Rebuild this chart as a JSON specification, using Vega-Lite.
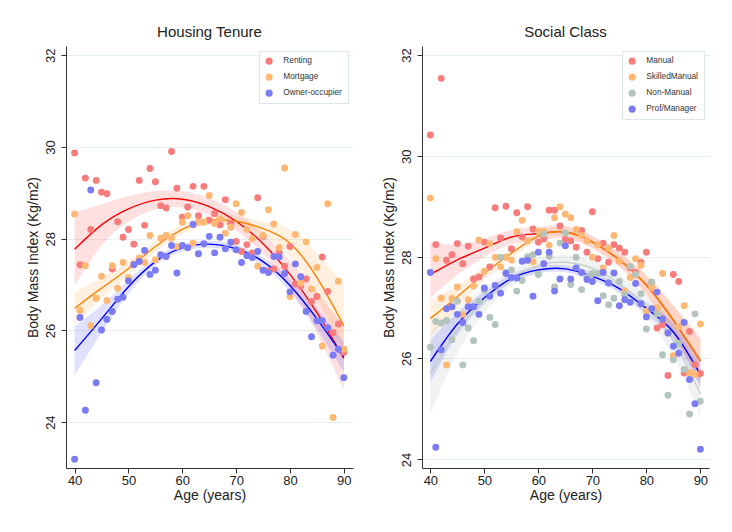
{
  "$schema": "https://vega.github.io/schema/vega-lite/v6.json",
  "background": "white",
  "padding": {"left": 26, "top": 25, "right": 5, "bottom": 5},
  "spacing": 29,
  "datasets": {
    "ptsL": [
      {"age":40,"group":"Renting","bmi":29.87},{"age":41,"group":"Renting","bmi":27.43},{"age":42,"group":"Renting","bmi":29.32},{"age":43,"group":"Renting","bmi":28.2},{"age":44,"group":"Renting","bmi":29.27},{"age":45,"group":"Renting","bmi":29.01},{"age":46,"group":"Renting","bmi":28.98},{"age":47,"group":"Renting","bmi":27.34},{"age":48,"group":"Renting","bmi":28.37},{"age":49,"group":"Renting","bmi":28.03},{"age":50,"group":"Renting","bmi":28.2},{"age":51,"group":"Renting","bmi":27.88},{"age":52,"group":"Renting","bmi":29.27},{"age":53,"group":"Renting","bmi":28.29},{"age":54,"group":"Renting","bmi":29.53},{"age":55,"group":"Renting","bmi":29.24},{"age":56,"group":"Renting","bmi":28.72},{"age":57,"group":"Renting","bmi":28.67},{"age":58,"group":"Renting","bmi":29.9},{"age":59,"group":"Renting","bmi":29.1},{"age":60,"group":"Renting","bmi":28.47},{"age":61,"group":"Renting","bmi":28.69},{"age":62,"group":"Renting","bmi":29.14},{"age":63,"group":"Renting","bmi":28.5},{"age":64,"group":"Renting","bmi":29.14},{"age":65,"group":"Renting","bmi":28.4},{"age":66,"group":"Renting","bmi":28.55},{"age":67,"group":"Renting","bmi":28.3},{"age":68,"group":"Renting","bmi":28.85},{"age":69,"group":"Renting","bmi":28.33},{"age":70,"group":"Renting","bmi":27.94},{"age":71,"group":"Renting","bmi":27.72},{"age":72,"group":"Renting","bmi":27.87},{"age":73,"group":"Renting","bmi":27.69},{"age":74,"group":"Renting","bmi":28.89},{"age":75,"group":"Renting","bmi":28.05},{"age":76,"group":"Renting","bmi":27.3},{"age":77,"group":"Renting","bmi":27.34},{"age":78,"group":"Renting","bmi":27.7},{"age":79,"group":"Renting","bmi":27.4},{"age":80,"group":"Renting","bmi":27.83},{"age":81,"group":"Renting","bmi":27.01},{"age":82,"group":"Renting","bmi":26.96},{"age":83,"group":"Renting","bmi":27.12},{"age":84,"group":"Renting","bmi":26.63},{"age":85,"group":"Renting","bmi":26.74},{"age":86,"group":"Renting","bmi":27.6},{"age":87,"group":"Renting","bmi":26.85},{"age":88,"group":"Renting","bmi":25.95},{"age":89,"group":"Renting","bmi":26.14},{"age":90,"group":"Renting","bmi":25.52},
      {"age":40,"group":"Mortgage","bmi":28.54},{"age":41,"group":"Mortgage","bmi":26.44},{"age":42,"group":"Mortgage","bmi":27.41},{"age":43,"group":"Mortgage","bmi":26.1},{"age":44,"group":"Mortgage","bmi":26.7},{"age":45,"group":"Mortgage","bmi":27.18},{"age":46,"group":"Mortgage","bmi":26.65},{"age":47,"group":"Mortgage","bmi":27.41},{"age":48,"group":"Mortgage","bmi":26.92},{"age":49,"group":"Mortgage","bmi":27.48},{"age":50,"group":"Mortgage","bmi":27.15},{"age":51,"group":"Mortgage","bmi":27.45},{"age":52,"group":"Mortgage","bmi":27.58},{"age":53,"group":"Mortgage","bmi":27.48},{"age":54,"group":"Mortgage","bmi":28.07},{"age":55,"group":"Mortgage","bmi":27.54},{"age":56,"group":"Mortgage","bmi":28.01},{"age":57,"group":"Mortgage","bmi":28.07},{"age":58,"group":"Mortgage","bmi":28.01},{"age":59,"group":"Mortgage","bmi":27.83},{"age":60,"group":"Mortgage","bmi":28.36},{"age":61,"group":"Mortgage","bmi":28.5},{"age":62,"group":"Mortgage","bmi":27.9},{"age":63,"group":"Mortgage","bmi":28.36},{"age":64,"group":"Mortgage","bmi":28.36},{"age":65,"group":"Mortgage","bmi":28.94},{"age":66,"group":"Mortgage","bmi":28.33},{"age":67,"group":"Mortgage","bmi":28.43},{"age":68,"group":"Mortgage","bmi":28.12},{"age":69,"group":"Mortgage","bmi":28.25},{"age":70,"group":"Mortgage","bmi":28.76},{"age":71,"group":"Mortgage","bmi":28.57},{"age":72,"group":"Mortgage","bmi":28.2},{"age":73,"group":"Mortgage","bmi":28.0},{"age":74,"group":"Mortgage","bmi":27.4},{"age":75,"group":"Mortgage","bmi":28.07},{"age":76,"group":"Mortgage","bmi":28.63},{"age":77,"group":"Mortgage","bmi":28.32},{"age":78,"group":"Mortgage","bmi":27.8},{"age":79,"group":"Mortgage","bmi":29.54},{"age":80,"group":"Mortgage","bmi":26.74},{"age":81,"group":"Mortgage","bmi":28.09},{"age":82,"group":"Mortgage","bmi":27.03},{"age":83,"group":"Mortgage","bmi":27.93},{"age":84,"group":"Mortgage","bmi":26.9},{"age":85,"group":"Mortgage","bmi":27.37},{"age":86,"group":"Mortgage","bmi":25.66},{"age":87,"group":"Mortgage","bmi":28.76},{"age":88,"group":"Mortgage","bmi":24.1},{"age":89,"group":"Mortgage","bmi":27.07},{"age":90,"group":"Mortgage","bmi":25.59},
      {"age":40,"group":"Owner-occupier","bmi":23.19},{"age":41,"group":"Owner-occupier","bmi":26.28},{"age":42,"group":"Owner-occupier","bmi":24.26},{"age":43,"group":"Owner-occupier","bmi":29.06},{"age":44,"group":"Owner-occupier","bmi":24.86},{"age":45,"group":"Owner-occupier","bmi":26.01},{"age":46,"group":"Owner-occupier","bmi":26.24},{"age":47,"group":"Owner-occupier","bmi":26.41},{"age":48,"group":"Owner-occupier","bmi":26.68},{"age":49,"group":"Owner-occupier","bmi":26.72},{"age":50,"group":"Owner-occupier","bmi":27.08},{"age":51,"group":"Owner-occupier","bmi":27.43},{"age":52,"group":"Owner-occupier","bmi":27.5},{"age":53,"group":"Owner-occupier","bmi":27.74},{"age":54,"group":"Owner-occupier","bmi":27.22},{"age":55,"group":"Owner-occupier","bmi":27.31},{"age":56,"group":"Owner-occupier","bmi":27.65},{"age":57,"group":"Owner-occupier","bmi":27.61},{"age":58,"group":"Owner-occupier","bmi":27.85},{"age":59,"group":"Owner-occupier","bmi":27.25},{"age":60,"group":"Owner-occupier","bmi":27.85},{"age":61,"group":"Owner-occupier","bmi":27.8},{"age":62,"group":"Owner-occupier","bmi":28.31},{"age":63,"group":"Owner-occupier","bmi":27.67},{"age":64,"group":"Owner-occupier","bmi":27.89},{"age":65,"group":"Owner-occupier","bmi":28.05},{"age":66,"group":"Owner-occupier","bmi":27.69},{"age":67,"group":"Owner-occupier","bmi":28.03},{"age":68,"group":"Owner-occupier","bmi":27.78},{"age":69,"group":"Owner-occupier","bmi":27.92},{"age":70,"group":"Owner-occupier","bmi":27.76},{"age":71,"group":"Owner-occupier","bmi":27.48},{"age":72,"group":"Owner-occupier","bmi":27.63},{"age":73,"group":"Owner-occupier","bmi":27.59},{"age":74,"group":"Owner-occupier","bmi":27.72},{"age":75,"group":"Owner-occupier","bmi":27.31},{"age":76,"group":"Owner-occupier","bmi":27.26},{"age":77,"group":"Owner-occupier","bmi":27.61},{"age":78,"group":"Owner-occupier","bmi":27.6},{"age":79,"group":"Owner-occupier","bmi":27.24},{"age":80,"group":"Owner-occupier","bmi":26.84},{"age":81,"group":"Owner-occupier","bmi":27.45},{"age":82,"group":"Owner-occupier","bmi":27.17},{"age":83,"group":"Owner-occupier","bmi":26.41},{"age":84,"group":"Owner-occupier","bmi":25.86},{"age":85,"group":"Owner-occupier","bmi":26.21},{"age":86,"group":"Owner-occupier","bmi":26.21},{"age":87,"group":"Owner-occupier","bmi":26.06},{"age":88,"group":"Owner-occupier","bmi":25.46},{"age":89,"group":"Owner-occupier","bmi":25.59},{"age":90,"group":"Owner-occupier","bmi":24.97}
    ],
    "fitL": [
      {"age":40,"group":"Renting","fit":27.77,"lo":26.97,"hi":28.57},{"age":45,"group":"Renting","fit":28.3,"lo":27.85,"hi":28.75},{"age":50,"group":"Renting","fit":28.65,"lo":28.37,"hi":28.93},{"age":55,"group":"Renting","fit":28.84,"lo":28.64,"hi":29.04},{"age":60,"group":"Renting","fit":28.86,"lo":28.68,"hi":29.04},{"age":65,"group":"Renting","fit":28.7,"lo":28.52,"hi":28.88},{"age":70,"group":"Renting","fit":28.38,"lo":28.18,"hi":28.58},{"age":75,"group":"Renting","fit":27.89,"lo":27.67,"hi":28.11},{"age":80,"group":"Renting","fit":27.22,"lo":26.92,"hi":27.52},{"age":85,"group":"Renting","fit":26.39,"lo":25.94,"hi":26.84},{"age":90,"group":"Renting","fit":25.39,"lo":24.69,"hi":26.09},
      {"age":40,"group":"Mortgage","fit":26.48,"lo":26.12,"hi":26.84},{"age":45,"group":"Mortgage","fit":26.92,"lo":26.7,"hi":27.14},{"age":50,"group":"Mortgage","fit":27.35,"lo":27.2,"hi":27.5},{"age":55,"group":"Mortgage","fit":27.83,"lo":27.71,"hi":27.95},{"age":60,"group":"Mortgage","fit":28.2,"lo":28.09,"hi":28.31},{"age":65,"group":"Mortgage","fit":28.4,"lo":28.29,"hi":28.51},{"age":70,"group":"Mortgage","fit":28.38,"lo":28.26,"hi":28.5},{"age":75,"group":"Mortgage","fit":28.22,"lo":28.07,"hi":28.37},{"age":80,"group":"Mortgage","fit":27.9,"lo":27.6,"hi":28.2},{"age":85,"group":"Mortgage","fit":27.15,"lo":26.7,"hi":27.7},{"age":90,"group":"Mortgage","fit":26.1,"lo":25.5,"hi":27.0},
      {"age":40,"group":"Owner-occupier","fit":25.56,"lo":25.03,"hi":26.09},{"age":45,"group":"Owner-occupier","fit":26.25,"lo":25.95,"hi":26.55},{"age":50,"group":"Owner-occupier","fit":26.95,"lo":26.8,"hi":27.1},{"age":55,"group":"Owner-occupier","fit":27.5,"lo":27.41,"hi":27.59},{"age":60,"group":"Owner-occupier","fit":27.8,"lo":27.72,"hi":27.88},{"age":65,"group":"Owner-occupier","fit":27.88,"lo":27.8,"hi":27.96},{"age":70,"group":"Owner-occupier","fit":27.78,"lo":27.7,"hi":27.86},{"age":75,"group":"Owner-occupier","fit":27.5,"lo":27.4,"hi":27.6},{"age":80,"group":"Owner-occupier","fit":26.98,"lo":26.84,"hi":27.12},{"age":85,"group":"Owner-occupier","fit":26.25,"lo":26.03,"hi":26.47},{"age":90,"group":"Owner-occupier","fit":25.42,"lo":25.1,"hi":25.74}
    ],
    "ptsR": [
      {"age":40,"group":"Manual","bmi":30.42},{"age":41,"group":"Manual","bmi":28.25},{"age":42,"group":"Manual","bmi":31.54},{"age":43,"group":"Manual","bmi":27.94},{"age":44,"group":"Manual","bmi":28.05},{"age":45,"group":"Manual","bmi":28.27},{"age":46,"group":"Manual","bmi":27.87},{"age":47,"group":"Manual","bmi":28.22},{"age":48,"group":"Manual","bmi":27.57},{"age":49,"group":"Manual","bmi":27.61},{"age":50,"group":"Manual","bmi":28.3},{"age":51,"group":"Manual","bmi":27.81},{"age":52,"group":"Manual","bmi":28.98},{"age":53,"group":"Manual","bmi":28.38},{"age":54,"group":"Manual","bmi":29.01},{"age":55,"group":"Manual","bmi":28.17},{"age":56,"group":"Manual","bmi":28.88},{"age":57,"group":"Manual","bmi":28.4},{"age":58,"group":"Manual","bmi":29.0},{"age":59,"group":"Manual","bmi":28.56},{"age":60,"group":"Manual","bmi":28.3},{"age":61,"group":"Manual","bmi":28.36},{"age":62,"group":"Manual","bmi":28.93},{"age":63,"group":"Manual","bmi":28.93},{"age":64,"group":"Manual","bmi":28.62},{"age":65,"group":"Manual","bmi":28.35},{"age":66,"group":"Manual","bmi":28.32},{"age":67,"group":"Manual","bmi":28.2},{"age":68,"group":"Manual","bmi":28.53},{"age":69,"group":"Manual","bmi":28.1},{"age":70,"group":"Manual","bmi":28.9},{"age":71,"group":"Manual","bmi":27.97},{"age":72,"group":"Manual","bmi":28.28},{"age":73,"group":"Manual","bmi":27.9},{"age":74,"group":"Manual","bmi":28.25},{"age":75,"group":"Manual","bmi":28.18},{"age":76,"group":"Manual","bmi":28.1},{"age":77,"group":"Manual","bmi":27.79},{"age":78,"group":"Manual","bmi":27.7},{"age":79,"group":"Manual","bmi":27.9},{"age":80,"group":"Manual","bmi":28.1},{"age":81,"group":"Manual","bmi":27.5},{"age":82,"group":"Manual","bmi":26.6},{"age":83,"group":"Manual","bmi":26.67},{"age":84,"group":"Manual","bmi":25.66},{"age":85,"group":"Manual","bmi":27.66},{"age":86,"group":"Manual","bmi":27.52},{"age":87,"group":"Manual","bmi":25.71},{"age":88,"group":"Manual","bmi":26.53},{"age":89,"group":"Manual","bmi":25.88},{"age":90,"group":"Manual","bmi":25.7},
      {"age":40,"group":"SkilledManual","bmi":29.17},{"age":41,"group":"SkilledManual","bmi":27.97},{"age":42,"group":"SkilledManual","bmi":27.19},{"age":43,"group":"SkilledManual","bmi":25.87},{"age":44,"group":"SkilledManual","bmi":27.19},{"age":45,"group":"SkilledManual","bmi":27.41},{"age":46,"group":"SkilledManual","bmi":26.87},{"age":47,"group":"SkilledManual","bmi":27.16},{"age":48,"group":"SkilledManual","bmi":27.43},{"age":49,"group":"SkilledManual","bmi":28.34},{"age":50,"group":"SkilledManual","bmi":27.72},{"age":51,"group":"SkilledManual","bmi":28.27},{"age":52,"group":"SkilledManual","bmi":28.0},{"age":53,"group":"SkilledManual","bmi":27.81},{"age":54,"group":"SkilledManual","bmi":28.0},{"age":55,"group":"SkilledManual","bmi":27.94},{"age":56,"group":"SkilledManual","bmi":28.51},{"age":57,"group":"SkilledManual","bmi":28.73},{"age":58,"group":"SkilledManual","bmi":28.32},{"age":59,"group":"SkilledManual","bmi":27.91},{"age":60,"group":"SkilledManual","bmi":28.51},{"age":61,"group":"SkilledManual","bmi":28.51},{"age":62,"group":"SkilledManual","bmi":28.24},{"age":63,"group":"SkilledManual","bmi":28.78},{"age":64,"group":"SkilledManual","bmi":29.0},{"age":65,"group":"SkilledManual","bmi":28.85},{"age":66,"group":"SkilledManual","bmi":28.78},{"age":67,"group":"SkilledManual","bmi":28.55},{"age":68,"group":"SkilledManual","bmi":28.43},{"age":69,"group":"SkilledManual","bmi":28.32},{"age":70,"group":"SkilledManual","bmi":28.0},{"age":71,"group":"SkilledManual","bmi":28.25},{"age":72,"group":"SkilledManual","bmi":27.79},{"age":73,"group":"SkilledManual","bmi":28.18},{"age":74,"group":"SkilledManual","bmi":28.43},{"age":75,"group":"SkilledManual","bmi":27.92},{"age":76,"group":"SkilledManual","bmi":27.33},{"age":77,"group":"SkilledManual","bmi":27.6},{"age":78,"group":"SkilledManual","bmi":27.97},{"age":79,"group":"SkilledManual","bmi":27.84},{"age":80,"group":"SkilledManual","bmi":26.93},{"age":81,"group":"SkilledManual","bmi":27.4},{"age":82,"group":"SkilledManual","bmi":27.0},{"age":83,"group":"SkilledManual","bmi":27.68},{"age":84,"group":"SkilledManual","bmi":26.5},{"age":85,"group":"SkilledManual","bmi":26.05},{"age":86,"group":"SkilledManual","bmi":26.63},{"age":87,"group":"SkilledManual","bmi":27.04},{"age":88,"group":"SkilledManual","bmi":25.72},{"age":89,"group":"SkilledManual","bmi":25.68},{"age":90,"group":"SkilledManual","bmi":26.68},
      {"age":40,"group":"Non-Manual","bmi":26.22},{"age":41,"group":"Non-Manual","bmi":26.73},{"age":42,"group":"Non-Manual","bmi":26.7},{"age":43,"group":"Non-Manual","bmi":26.75},{"age":44,"group":"Non-Manual","bmi":26.37},{"age":45,"group":"Non-Manual","bmi":27.13},{"age":46,"group":"Non-Manual","bmi":25.87},{"age":47,"group":"Non-Manual","bmi":26.6},{"age":48,"group":"Non-Manual","bmi":26.35},{"age":49,"group":"Non-Manual","bmi":27.13},{"age":50,"group":"Non-Manual","bmi":27.35},{"age":51,"group":"Non-Manual","bmi":26.81},{"age":52,"group":"Non-Manual","bmi":26.67},{"age":53,"group":"Non-Manual","bmi":28.0},{"age":54,"group":"Non-Manual","bmi":27.7},{"age":55,"group":"Non-Manual","bmi":27.75},{"age":56,"group":"Non-Manual","bmi":27.33},{"age":57,"group":"Non-Manual","bmi":27.54},{"age":58,"group":"Non-Manual","bmi":28.01},{"age":59,"group":"Non-Manual","bmi":28.05},{"age":60,"group":"Non-Manual","bmi":27.66},{"age":61,"group":"Non-Manual","bmi":28.46},{"age":62,"group":"Non-Manual","bmi":28.02},{"age":63,"group":"Non-Manual","bmi":27.41},{"age":64,"group":"Non-Manual","bmi":28.28},{"age":65,"group":"Non-Manual","bmi":28.48},{"age":66,"group":"Non-Manual","bmi":27.46},{"age":67,"group":"Non-Manual","bmi":28.0},{"age":68,"group":"Non-Manual","bmi":27.36},{"age":69,"group":"Non-Manual","bmi":27.6},{"age":70,"group":"Non-Manual","bmi":27.68},{"age":71,"group":"Non-Manual","bmi":27.68},{"age":72,"group":"Non-Manual","bmi":27.24},{"age":73,"group":"Non-Manual","bmi":27.06},{"age":74,"group":"Non-Manual","bmi":27.19},{"age":75,"group":"Non-Manual","bmi":27.52},{"age":76,"group":"Non-Manual","bmi":27.26},{"age":77,"group":"Non-Manual","bmi":27.82},{"age":78,"group":"Non-Manual","bmi":27.66},{"age":79,"group":"Non-Manual","bmi":27.28},{"age":80,"group":"Non-Manual","bmi":26.58},{"age":81,"group":"Non-Manual","bmi":27.51},{"age":82,"group":"Non-Manual","bmi":26.88},{"age":83,"group":"Non-Manual","bmi":26.07},{"age":84,"group":"Non-Manual","bmi":25.27},{"age":85,"group":"Non-Manual","bmi":25.97},{"age":86,"group":"Non-Manual","bmi":26.3},{"age":87,"group":"Non-Manual","bmi":25.78},{"age":88,"group":"Non-Manual","bmi":24.9},{"age":89,"group":"Non-Manual","bmi":26.88},{"age":90,"group":"Non-Manual","bmi":25.15},
      {"age":40,"group":"Prof/Manager","bmi":27.7},{"age":41,"group":"Prof/Manager","bmi":24.24},{"age":42,"group":"Prof/Manager","bmi":26.17},{"age":43,"group":"Prof/Manager","bmi":26.98},{"age":44,"group":"Prof/Manager","bmi":27.02},{"age":45,"group":"Prof/Manager","bmi":26.87},{"age":46,"group":"Prof/Manager","bmi":26.71},{"age":47,"group":"Prof/Manager","bmi":27.02},{"age":48,"group":"Prof/Manager","bmi":27.02},{"age":49,"group":"Prof/Manager","bmi":26.87},{"age":50,"group":"Prof/Manager","bmi":27.39},{"age":51,"group":"Prof/Manager","bmi":27.23},{"age":52,"group":"Prof/Manager","bmi":27.44},{"age":53,"group":"Prof/Manager","bmi":27.29},{"age":54,"group":"Prof/Manager","bmi":27.68},{"age":55,"group":"Prof/Manager","bmi":27.6},{"age":56,"group":"Prof/Manager","bmi":27.59},{"age":57,"group":"Prof/Manager","bmi":27.92},{"age":58,"group":"Prof/Manager","bmi":27.94},{"age":59,"group":"Prof/Manager","bmi":27.23},{"age":60,"group":"Prof/Manager","bmi":28.1},{"age":61,"group":"Prof/Manager","bmi":27.87},{"age":62,"group":"Prof/Manager","bmi":28.1},{"age":63,"group":"Prof/Manager","bmi":27.33},{"age":64,"group":"Prof/Manager","bmi":27.57},{"age":65,"group":"Prof/Manager","bmi":28.23},{"age":66,"group":"Prof/Manager","bmi":27.57},{"age":67,"group":"Prof/Manager","bmi":27.79},{"age":68,"group":"Prof/Manager","bmi":27.7},{"age":69,"group":"Prof/Manager","bmi":27.56},{"age":70,"group":"Prof/Manager","bmi":27.52},{"age":71,"group":"Prof/Manager","bmi":27.14},{"age":72,"group":"Prof/Manager","bmi":27.7},{"age":73,"group":"Prof/Manager","bmi":27.49},{"age":74,"group":"Prof/Manager","bmi":27.69},{"age":75,"group":"Prof/Manager","bmi":27.04},{"age":76,"group":"Prof/Manager","bmi":27.16},{"age":77,"group":"Prof/Manager","bmi":27.11},{"age":78,"group":"Prof/Manager","bmi":27.48},{"age":79,"group":"Prof/Manager","bmi":27.08},{"age":80,"group":"Prof/Manager","bmi":26.82},{"age":81,"group":"Prof/Manager","bmi":26.98},{"age":82,"group":"Prof/Manager","bmi":27.31},{"age":83,"group":"Prof/Manager","bmi":26.78},{"age":84,"group":"Prof/Manager","bmi":26.5},{"age":85,"group":"Prof/Manager","bmi":26.24},{"age":86,"group":"Prof/Manager","bmi":26.1},{"age":87,"group":"Prof/Manager","bmi":26.71},{"age":88,"group":"Prof/Manager","bmi":25.58},{"age":89,"group":"Prof/Manager","bmi":25.1},{"age":90,"group":"Prof/Manager","bmi":24.2}
    ],
    "fitR": [
      {"age":40,"group":"Manual","fit":27.66,"lo":27.2,"hi":28.3},{"age":45,"group":"Manual","fit":27.95,"lo":27.65,"hi":28.25},{"age":50,"group":"Manual","fit":28.18,"lo":28.0,"hi":28.36},{"age":55,"group":"Manual","fit":28.4,"lo":28.26,"hi":28.54},{"age":60,"group":"Manual","fit":28.47,"lo":28.34,"hi":28.6},{"age":65,"group":"Manual","fit":28.5,"lo":28.37,"hi":28.63},{"age":70,"group":"Manual","fit":28.3,"lo":28.17,"hi":28.43},{"age":75,"group":"Manual","fit":27.95,"lo":27.8,"hi":28.1},{"age":80,"group":"Manual","fit":27.45,"lo":27.25,"hi":27.65},{"age":85,"group":"Manual","fit":26.75,"lo":26.45,"hi":27.05},{"age":90,"group":"Manual","fit":25.95,"lo":25.5,"hi":26.4},
      {"age":40,"group":"SkilledManual","fit":26.79,"lo":26.42,"hi":27.16},{"age":45,"group":"SkilledManual","fit":27.22,"lo":27.0,"hi":27.44},{"age":50,"group":"SkilledManual","fit":27.68,"lo":27.55,"hi":27.81},{"age":55,"group":"SkilledManual","fit":28.08,"lo":27.98,"hi":28.18},{"age":60,"group":"SkilledManual","fit":28.42,"lo":28.33,"hi":28.51},{"age":65,"group":"SkilledManual","fit":28.5,"lo":28.41,"hi":28.59},{"age":70,"group":"SkilledManual","fit":28.3,"lo":28.2,"hi":28.4},{"age":75,"group":"SkilledManual","fit":27.95,"lo":27.83,"hi":28.07},{"age":80,"group":"SkilledManual","fit":27.45,"lo":27.27,"hi":27.63},{"age":85,"group":"SkilledManual","fit":26.75,"lo":26.47,"hi":27.03},{"age":90,"group":"SkilledManual","fit":25.95,"lo":25.53,"hi":26.37},
      {"age":40,"group":"Non-Manual","fit":25.71,"lo":24.89,"hi":26.53},{"age":45,"group":"Non-Manual","fit":26.55,"lo":26.1,"hi":27.0},{"age":50,"group":"Non-Manual","fit":27.15,"lo":26.9,"hi":27.4},{"age":55,"group":"Non-Manual","fit":27.58,"lo":27.42,"hi":27.74},{"age":60,"group":"Non-Manual","fit":27.84,"lo":27.7,"hi":27.98},{"age":65,"group":"Non-Manual","fit":27.9,"lo":27.76,"hi":28.04},{"age":70,"group":"Non-Manual","fit":27.78,"lo":27.63,"hi":27.93},{"age":75,"group":"Non-Manual","fit":27.48,"lo":27.31,"hi":27.65},{"age":80,"group":"Non-Manual","fit":27.02,"lo":26.8,"hi":27.24},{"age":85,"group":"Non-Manual","fit":26.35,"lo":26.03,"hi":26.67},{"age":90,"group":"Non-Manual","fit":25.3,"lo":24.85,"hi":25.75},
      {"age":40,"group":"Prof/Manager","fit":25.94,"lo":25.52,"hi":26.36},{"age":45,"group":"Prof/Manager","fit":26.68,"lo":26.46,"hi":26.9},{"age":50,"group":"Prof/Manager","fit":27.2,"lo":27.08,"hi":27.32},{"age":55,"group":"Prof/Manager","fit":27.58,"lo":27.5,"hi":27.66},{"age":60,"group":"Prof/Manager","fit":27.75,"lo":27.68,"hi":27.82},{"age":65,"group":"Prof/Manager","fit":27.77,"lo":27.7,"hi":27.84},{"age":70,"group":"Prof/Manager","fit":27.62,"lo":27.54,"hi":27.7},{"age":75,"group":"Prof/Manager","fit":27.38,"lo":27.29,"hi":27.47},{"age":80,"group":"Prof/Manager","fit":26.99,"lo":26.87,"hi":27.11},{"age":85,"group":"Prof/Manager","fit":26.52,"lo":26.34,"hi":26.7},{"age":90,"group":"Prof/Manager","fit":25.68,"lo":25.41,"hi":25.95}
    ]
  },
  "hconcat": [
    {
      "title": "Housing Tenure",
      "width": 287,
      "height": 422,
      "resolve": {"scale": {"color": "independent"}, "legend": {"color": "independent"}},
      "encoding": {
        "x": {"field": "age", "type": "quantitative", "title": "Age (years)",
              "scale": {"domain": [38.4, 91.7], "nice": false, "zero": false},
              "axis": {"values": [40, 50, 60, 70, 80, 90]}},
        "y": {"type": "quantitative", "title": "Body Mass Index (Kg/m2)",
              "scale": {"domain": [23.0, 32.2], "nice": false, "zero": false},
              "axis": {"values": [24, 26, 28, 30, 32]}}
      },
      "layer": [
        {
          "data": {"name": "fitL"},
          "mark": {"type": "area", "fillOpacity": 0.12, "interpolate": "natural"},
          "encoding": {
            "y": {"field": "lo", "type": "quantitative", "stack": null, "title": "Body Mass Index (Kg/m2)",
                  "scale": {"domain": [23.0, 32.2], "nice": false, "zero": false}},
            "y2": {"field": "hi"},
            "color": {"field": "group", "type": "nominal", "legend": null,
                      "scale": {"domain": ["Renting", "Mortgage", "Owner-occupier"], "range": ["#ff0000", "#ff8200", "#0000ff"]}}
          }
        },
        {
          "data": {"name": "fitL"},
          "mark": {"type": "line", "strokeWidth": 1.4, "interpolate": "natural"},
          "encoding": {
            "y": {"field": "fit", "type": "quantitative", "title": "Body Mass Index (Kg/m2)",
                  "scale": {"domain": [23.0, 32.2], "nice": false, "zero": false}},
            "color": {"field": "group", "type": "nominal", "legend": null,
                      "scale": {"domain": ["Renting", "Mortgage", "Owner-occupier"], "range": ["#ff0000", "#ff8200", "#0000ff"]}}
          }
        },
        {
          "data": {"name": "ptsL"},
          "mark": {"type": "circle", "size": 48, "opacity": 1},
          "encoding": {
            "y": {"field": "bmi", "type": "quantitative", "title": "Body Mass Index (Kg/m2)",
                  "scale": {"domain": [23.0, 32.2], "nice": false, "zero": false}},
            "color": {"field": "group", "type": "nominal",
                      "scale": {"domain": ["Renting", "Mortgage", "Owner-occupier"], "range": ["#f87c7c", "#ffb873", "#7b7bf6"]},
                      "legend": {"title": null}}
          }
        }
      ]
    },
    {
      "title": "Social Class",
      "width": 287,
      "height": 422,
      "resolve": {"scale": {"color": "independent"}, "legend": {"color": "independent"}},
      "encoding": {
        "x": {"field": "age", "type": "quantitative", "title": "Age (years)",
              "scale": {"domain": [38.45, 91.6], "nice": false, "zero": false},
              "axis": {"values": [40, 50, 60, 70, 80, 90]}},
        "y": {"type": "quantitative", "title": "Body Mass Index (Kg/m2)",
              "scale": {"domain": [23.83, 32.18], "nice": false, "zero": false},
              "axis": {"values": [24, 26, 28, 30, 32]}}
      },
      "layer": [
        {
          "data": {"name": "fitR"},
          "mark": {"type": "area", "fillOpacity": 0.12, "interpolate": "natural"},
          "encoding": {
            "y": {"field": "lo", "type": "quantitative", "stack": null, "title": "Body Mass Index (Kg/m2)",
                  "scale": {"domain": [23.83, 32.18], "nice": false, "zero": false}},
            "y2": {"field": "hi"},
            "color": {"field": "group", "type": "nominal", "legend": null,
                      "scale": {"domain": ["Manual", "SkilledManual", "Non-Manual", "Prof/Manager"], "range": ["#ff0000", "#ff8200", "#8f9d96", "#0000ff"]}}
          }
        },
        {
          "data": {"name": "fitR"},
          "mark": {"type": "line", "strokeWidth": 1.4, "interpolate": "natural"},
          "encoding": {
            "y": {"field": "fit", "type": "quantitative", "title": "Body Mass Index (Kg/m2)",
                  "scale": {"domain": [23.83, 32.18], "nice": false, "zero": false}},
            "color": {"field": "group", "type": "nominal", "legend": null,
                      "scale": {"domain": ["Manual", "SkilledManual", "Non-Manual", "Prof/Manager"], "range": ["#ff0000", "#ff8200", "#c3cfc9", "#0000ff"]}}
          }
        },
        {
          "data": {"name": "ptsR"},
          "mark": {"type": "circle", "size": 48, "opacity": 1},
          "encoding": {
            "y": {"field": "bmi", "type": "quantitative", "title": "Body Mass Index (Kg/m2)",
                  "scale": {"domain": [23.83, 32.18], "nice": false, "zero": false}},
            "color": {"field": "group", "type": "nominal",
                      "scale": {"domain": ["Manual", "SkilledManual", "Non-Manual", "Prof/Manager"], "range": ["#f87c7c", "#ffb873", "#b3c4bc", "#7b7bf6"]},
                      "legend": {"title": null}}
          }
        }
      ]
    }
  ],
  "config": {
    "font": "Liberation Sans",
    "view": {"stroke": null},
    "title": {"fontSize": 15, "fontWeight": "normal", "color": "#222222", "offset": 6, "anchor": "middle"},
    "axis": {
      "domainColor": "#333333", "tickColor": "#333333", "labelColor": "#222222", "titleColor": "#222222",
      "labelFontSize": 13, "titleFontSize": 14, "titleFontWeight": "normal", "tickSize": 5,
      "gridColor": "#e6eff1", "gridWidth": 1
    },
    "axisX": {"grid": false, "labelPadding": 1, "titlePadding": 1},
    "axisY": {"grid": true, "labelAngle": 270, "labelAlign": "center", "labelBaseline": "bottom", "labelPadding": 4, "titlePadding": 4},
    "legend": {
      "orient": "top-right", "offset": 5, "fillColor": "white", "strokeColor": "#dde6e9", "padding": 6,
      "labelFontSize": 8.3, "labelColor": "#333333", "symbolSize": 50, "symbolType": "circle",
      "rowPadding": 7, "labelOffset": 10, "symbolStrokeWidth": 0
    }
  }
}
